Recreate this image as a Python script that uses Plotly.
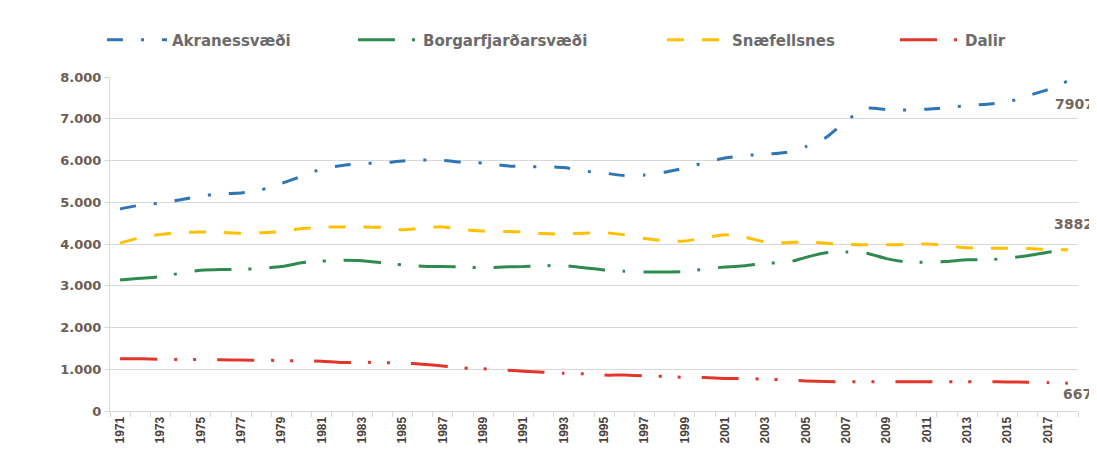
import plotly.graph_objects as go

years = list(range(1971, 2019))
tick_years = list(range(1971, 2018, 2))

akranes = [4840, 4930, 4980, 5060, 5150, 5200, 5220, 5300, 5450, 5620,
           5800, 5880, 5930, 5940, 5990, 6010, 6000, 5960, 5940, 5880,
           5850, 5850, 5830, 5750, 5700, 5640, 5650, 5720, 5820, 5950,
           6060, 6120, 6150, 6190, 6330, 6550, 6950, 7250, 7220, 7210,
           7230, 7260, 7320, 7350, 7400, 7550, 7700, 7907]

borgar = [3140, 3180, 3220, 3300, 3370, 3390, 3390, 3420, 3460, 3550,
          3590, 3610, 3600, 3550, 3500, 3470, 3460, 3450, 3430, 3450,
          3460, 3480, 3480, 3430, 3380, 3350, 3330, 3330, 3340, 3400,
          3450, 3480, 3540, 3550, 3680, 3790, 3810, 3780, 3650, 3570,
          3560, 3580, 3620, 3620, 3660, 3720, 3800, 3882]

snaef = [4020, 4150, 4230, 4270, 4290, 4280, 4260, 4270, 4300, 4370,
         4400, 4410, 4410, 4400, 4340, 4380, 4410, 4350, 4310, 4300,
         4290, 4250, 4240, 4260, 4270, 4220, 4130, 4080, 4070, 4150,
         4220, 4160, 4050, 4030, 4050, 4020, 3990, 3980, 3980, 3990,
         4000, 3960, 3910, 3900, 3900, 3890, 3870, 3860]

dalir = [1250, 1250, 1240, 1235, 1230, 1225, 1220, 1215, 1210, 1200,
         1190, 1160, 1170, 1155, 1150, 1120, 1080, 1030, 1010, 980,
         955, 930, 905, 890, 860, 860, 845, 830, 805, 800,
         780, 775, 765, 745, 720, 705, 700, 700, 700, 700,
         700, 700, 700, 700, 695, 690, 680, 667]

names = ["Akranessvæði", "Borgarfjarðarsvæði", "Snæfellsnes", "Dalir"]
series = [akranes, borgar, snaef, dalir]
colors = ["#2e75b6", "#2f8a4f", "#ffc000", "#e0362b"]
dashes = ["16px,18px,3px,18px", "37px,17px,3px,18px", "17px,18px",
          "37px,17px,3px,16px,3px,21px"]

W, H = 1089, 457
legend_x = [94, 345, 654, 887]

fig = go.Figure()
for i, (n, s, c, d) in enumerate(zip(names, series, colors, dashes)):
    lg = "legend" if i == 0 else f"legend{i+1}"
    fig.add_trace(go.Scatter(
        x=years, y=s, mode="lines", name=n,
        line=dict(color=c, width=3, dash=d, shape="spline", smoothing=0.6),
        legend=lg,
    ))

legend_font = dict(family="DejaVu Sans", size=15, color="#6b6b6b", weight="bold")
layout_legends = {}
for i, lx in enumerate(legend_x):
    key = "legend" if i == 0 else f"legend{i+1}"
    layout_legends[key] = dict(
        x=lx / W, y=1 - 32 / H, xref="container", yref="container",
        xanchor="left", yanchor="middle", orientation="h",
        font=legend_font, bgcolor="rgba(0,0,0,0)", itemwidth=60,
    )

label_font = dict(family="DejaVu Sans", size=14, color="#76665e", weight="bold")
annotations = [
    dict(x=2018, y=akranes[-1], text=str(akranes[-1]), showarrow=False,
         xanchor="left", yanchor="middle", xshift=-15, yshift=-23, font=label_font),
    dict(x=2018, y=borgar[-1], text=str(borgar[-1]), showarrow=False,
         xanchor="left", yanchor="middle", xshift=-16, yshift=25, font=label_font),
    dict(x=2018, y=dalir[-1], text=str(dalir[-1]), showarrow=False,
         xanchor="left", yanchor="middle", xshift=-7, yshift=-11, font=label_font),
]

fig.update_layout(
    width=W, height=H,
    margin=dict(l=102, r=19, t=69, b=54),
    paper_bgcolor="white", plot_bgcolor="white",
    separators=",.",
    showlegend=True,
    annotations=annotations,
    **layout_legends,
)

fig.update_xaxes(
    range=[1970.5, 2018.5],
    tickmode="array", tickvals=tick_years, ticktext=[str(y) for y in tick_years],
    tickangle=-90, ticks="",
    tickfont=dict(family="Liberation Sans", size=12, color="#4a403b", weight="bold"),
    showgrid=False, zeroline=False,
    showline=True, linecolor="#d9d9d9", linewidth=1,
    minor=dict(ticks="outside", tick0=1970.5, dtick=1, ticklen=5,
               tickcolor="#d9d9d9", showgrid=False),
)

fig.update_yaxes(
    range=[0, 8000], dtick=1000, tickformat=",d",
    tickfont=dict(family="DejaVu Sans", size=13, color="#6e5c52", weight="bold"),
    showgrid=True, gridcolor="#d9d9d9", gridwidth=1,
    zeroline=False,
    showline=True, linecolor="#d9d9d9", linewidth=1,
    ticks="outside", ticklen=5, tickcolor="#d9d9d9",
)

fig.write_html("out.html")
